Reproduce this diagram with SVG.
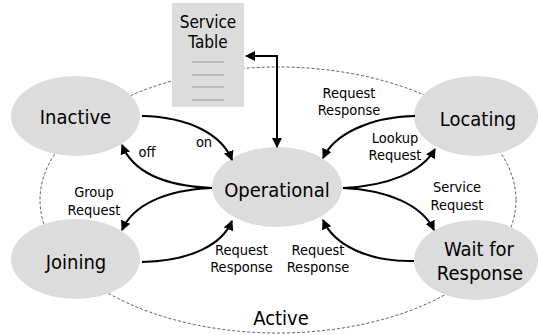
<svg xmlns="http://www.w3.org/2000/svg" width="538" height="335" viewBox="0 0 538 335">
<style>
.node{fill:#dcdcdc;stroke:none}
.big{font-family:"DejaVu Sans Condensed","DejaVu Sans",sans-serif;font-size:20px;fill:#000;text-anchor:middle}
.lbl{font-family:"DejaVu Sans Condensed","DejaVu Sans",sans-serif;font-size:14.5px;fill:#000;text-anchor:middle}
.tbl{font-family:"DejaVu Sans Condensed","DejaVu Sans",sans-serif;font-size:17px;fill:#000;text-anchor:middle}
.edge{fill:none;stroke:#000;stroke-width:2}
.dash{fill:none;stroke:#333;stroke-width:0.8;stroke-dasharray:3,2}
.rule{stroke:#9a9a9a;stroke-width:1}
</style>
<defs>
<marker id="ah" viewBox="0 0 10 10" refX="9" refY="5" markerWidth="5" markerHeight="5" orient="auto-start-reverse" markerUnits="strokeWidth">
<path d="M0,0 L10,5 L0,10 z" fill="#000"/>
</marker>
</defs>
<rect width="538" height="335" fill="#fff"/>
<g id="active">
<ellipse class="dash" cx="278" cy="200" rx="238" ry="133"/>
<text class="big" x="281" y="325">Active</text>
</g>
<g id="service-table">
<rect x="172" y="3" width="72" height="104" fill="#dcdcdc"/>
<text class="tbl" x="208" y="28">Service</text>
<text class="tbl" x="208" y="48">Table</text>
<line class="rule" x1="192" y1="62" x2="224" y2="62"/>
<line class="rule" x1="192" y1="75" x2="224" y2="75"/>
<line class="rule" x1="192" y1="87" x2="224" y2="87"/>
<line class="rule" x1="192" y1="100" x2="224" y2="100"/>
</g>
<g id="inactive">
<ellipse class="node" cx="75.5" cy="116" rx="64.5" ry="40"/>
<text class="big" x="75.5" y="124">Inactive</text>
</g>
<g id="locating">
<ellipse class="node" cx="476" cy="116" rx="62" ry="40"/>
<text class="big" x="478" y="126">Locating</text>
</g>
<g id="operational">
<ellipse class="node" cx="277" cy="187" rx="65" ry="40"/>
<text class="big" x="277" y="197">Operational</text>
</g>
<g id="joining">
<ellipse class="node" cx="75.5" cy="259" rx="64.5" ry="40"/>
<text class="big" x="76" y="269">Joining</text>
</g>
<g id="wait-for-response">
<ellipse class="node" cx="476" cy="260" rx="62" ry="40"/>
<text class="big" x="479" y="256">Wait for</text>
<text class="big" x="480" y="280">Response</text>
</g>
<g id="connectors">
<path class="edge" d="M246,56 H277 V147" marker-start="url(#ah)" marker-end="url(#ah)"/>
<path class="edge" d="M142,116 C190,117 222,135 232,160" marker-end="url(#ah)"/>
<path class="edge" d="M212,188 C165,186 133,172 122,145" marker-end="url(#ah)"/>
<path class="edge" d="M212,188 C165,190 133,205 122,230" marker-end="url(#ah)"/>
<path class="edge" d="M142,262 C190,261 222,245 232,221" marker-end="url(#ah)"/>
<path class="edge" d="M415,116 C368,117 334,135 323,158" marker-end="url(#ah)"/>
<path class="edge" d="M343,188 C388,186 422,172 435,149" marker-end="url(#ah)"/>
<path class="edge" d="M343,188 C388,190 422,205 434,230" marker-end="url(#ah)"/>
<path class="edge" d="M414,261 C368,262 334,245 323,220" marker-end="url(#ah)"/>
<text class="lbl" x="204" y="147">on</text>
<text class="lbl" x="147" y="157">off</text>
<text class="lbl" x="349" y="98">Request</text>
<text class="lbl" x="349" y="115">Response</text>
<text class="lbl" x="395" y="143">Lookup</text>
<text class="lbl" x="395" y="160">Request</text>
<text class="lbl" x="94" y="197">Group</text>
<text class="lbl" x="94" y="215">Request</text>
<text class="lbl" x="241.5" y="255">Request</text>
<text class="lbl" x="241.5" y="272">Response</text>
<text class="lbl" x="318" y="255">Request</text>
<text class="lbl" x="318" y="272">Response</text>
<text class="lbl" x="457" y="192">Service</text>
<text class="lbl" x="457" y="210">Request</text>
</g>
</svg>
